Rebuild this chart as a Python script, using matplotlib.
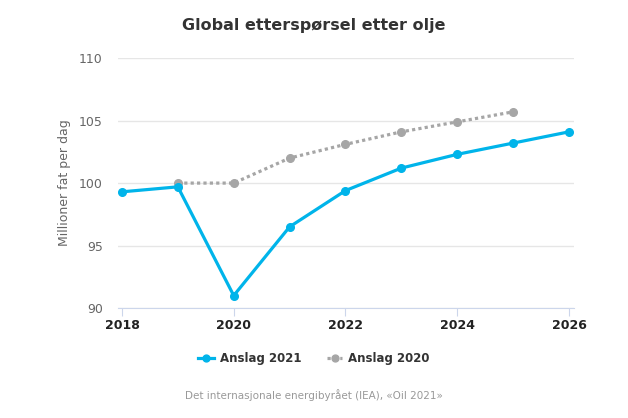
import matplotlib
matplotlib.use("Agg")
import matplotlib.pyplot as plt

# Data
years_2021 = [2018, 2019, 2020, 2021, 2022, 2023, 2024, 2025, 2026]
anslag_2021 = [99.3, 99.7, 91.0, 96.5, 99.4, 101.2, 102.3, 103.2, 104.1]
years_2020 = [2019, 2020, 2021, 2022, 2023, 2024, 2025]
anslag_2020 = [100.0, 100.0, 102.0, 103.1, 104.1, 104.9, 105.7]

x_ticks = [2018, 2020, 2022, 2024, 2026]
y_ticks = [90, 95, 100, 105, 110]

blue = '#00b4ea'
gray = '#a6a6a6'

fig = plt.figure(figsize=(6.28, 4.18), dpi=100)
ax = fig.add_axes([0.188, 0.263, 0.726, 0.598])

ax.plot(years_2021, anslag_2021, color=blue, lw=2.3, marker='o', ms=5.5,
        label='Anslag 2021', zorder=3)
ax.plot(years_2020, anslag_2020, color=gray, lw=2.3, ls=(0, (1, 1)), marker='o', ms=5.5,
        label='Anslag 2020', zorder=2)

ax.set_xlim(2017.93, 2026.09)
ax.set_ylim(90, 110)
ax.set_xticks(x_ticks)
ax.set_yticks(y_ticks)
ax.grid(axis='y', color='#e6e6e6', lw=1)
ax.set_axisbelow(True)
for s in ['top', 'right', 'left']:
    ax.spines[s].set_visible(False)
ax.spines['bottom'].set_color('#ccd6eb')
ax.tick_params(axis='y', length=0, labelsize=9, labelcolor='#666666', pad=11)
ax.tick_params(axis='x', length=6, color='#ccd6eb', labelsize=9, labelcolor='#222222', pad=2)
for lbl in ax.get_xticklabels():
    lbl.set_fontweight('bold')
ax.set_ylabel('Millioner fat per dag', fontsize=9, color='#666666', labelpad=6)

fig.text(0.5, 0.94, 'Global etterspørsel etter olje', ha='center', va='center',
         fontsize=11.5, fontweight='bold', color='#333333')

leg = fig.legend(loc='center', bbox_to_anchor=(0.5, 0.143), ncol=2, frameon=False,
                 prop={'weight': 'bold', 'size': 8.5}, handlelength=1.3,
                 columnspacing=2.2, handletextpad=0.5, markerscale=0.9)
for t in leg.get_texts():
    t.set_color('#333333')

fig.text(0.5, 0.055, 'Det internasjonale energibyrået (IEA), «Oil 2021»', ha='center',
         va='center', fontsize=7.5, color='#999999')

fig.savefig('out.png', dpi=100)
